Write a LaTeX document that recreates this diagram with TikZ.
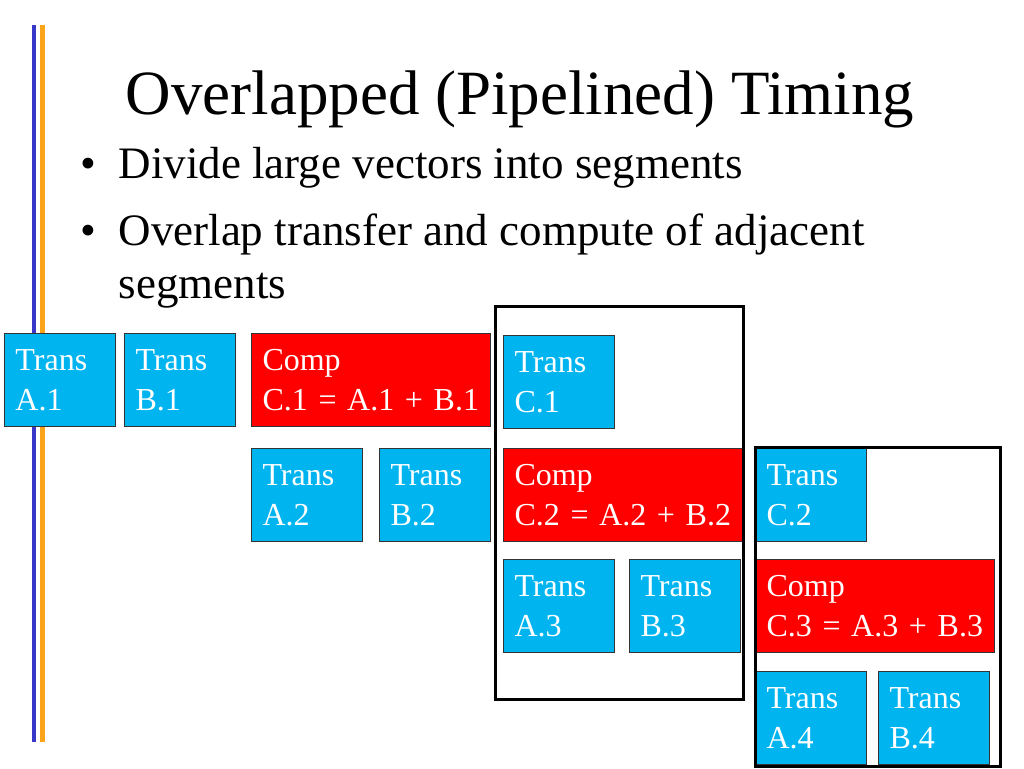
\documentclass[tikz,border=0pt]{standalone}
\usepackage{fontspec}
\setmainfont{Liberation Serif}
\definecolor{transblue}{RGB}{0,180,240}
\definecolor{compred}{RGB}{255,0,0}
\definecolor{railblue}{RGB}{55,55,200}
\definecolor{railorange}{RGB}{250,165,25}
\begin{document}
\begin{tikzpicture}[x=1pt,y=-1pt,
    box/.style={draw=black!80, line width=1pt, anchor=north west, inner xsep=11pt, inner ysep=0pt,
      minimum height=93pt, align=left, text=white, font=\fontsize{32}{40}\selectfont},
    trans/.style={box, fill=transblue, text width=89pt},
    comp/.style={box, fill=compred, text width=217pt},
    frame/.style={draw=black, line width=3pt},
    bullet/.style={anchor=base west, font=\fontsize{45}{53}\selectfont}]
    \useasboundingbox (0,0) rectangle (1024,768);
    % side rails
    \fill[railblue] (32,25) rectangle (36,742);
    \fill[railorange] (40,25) rectangle (45,742);
    % title and bullets
    \node[anchor=base, font=\fontsize{63}{70}\selectfont] (title) at (520,114) {Overlapped (Pipelined) Timing};
    \node[bullet] (dot1) at (77,178) {•};
    \node[bullet] (item1) at (115,178) {Divide large vectors into segments};
    \node[bullet] (dot2) at (77,245) {•};
    \node[bullet] (item2) at (115,245) {Overlap transfer and compute of adjacent};
    \node[bullet] (item2b) at (115,298) {segments};
    % segment 1
    \node[trans] (ta1) at (4,333) {Trans\\A.1};
    \node[trans] (tb1) at (124,333) {Trans\\B.1};
    \node[comp] (cc1) at (251,333) {Comp\\C.1 = A.1 + B.1};
    \node[trans] (tc1) at (503,335) {Trans\\C.1};
    % segment 2
    \node[trans] (ta2) at (251,448) {Trans\\A.2};
    \node[trans] (tb2) at (379,448) {Trans\\B.2};
    \node[comp] (cc2) at (503,448) {Comp\\C.2 = A.2 + B.2};
    \node[trans] (tc2) at (755,448) {Trans\\C.2};
    % segment 3
    \node[trans] (ta3) at (503,559) {Trans\\A.3};
    \node[trans] (tb3) at (629,559) {Trans\\B.3};
    \node[comp] (cc3) at (755,559) {Comp\\C.3 = A.3 + B.3};
    % segment 4
    \node[trans] (ta4) at (755,671) {Trans\\A.4};
    \node[trans] (tb4) at (878,671) {Trans\\B.4};
    % overlap frames
    \draw[frame] (495,306) rectangle (743,699);
    \draw[frame] (755,447) rectangle (1000,766);
\end{tikzpicture}
\end{document}
